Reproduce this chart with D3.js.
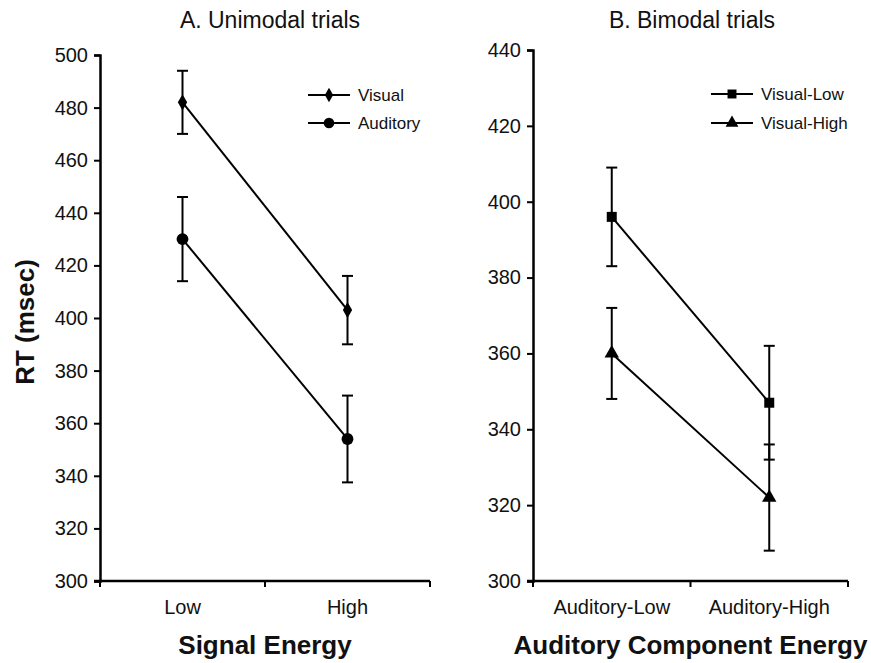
<!DOCTYPE html>
<html>
<head>
<meta charset="utf-8">
<script src="https://cdn.jsdelivr.net/npm/d3@7"></script>
<style>
  body { margin: 0; background: #fff; }
  text { font-family: "Liberation Sans", Arial, Helvetica, sans-serif; fill: #111; }
</style>
</head>
<body>
<div id="chart"></div>
<script>
// ---- data ----
var unimodalCats = ["Low", "High"];
var visualRT = [482, 403];
var visualErr = [12, 13];
var auditoryRT = [430, 354];
var auditoryErr = [16, 16.5];
var unimodalTicks = [300, 320, 340, 360, 380, 400, 420, 440, 460, 480, 500];

var bimodalCats = ["Auditory-Low", "Auditory-High"];
var visLowRT = [396, 347];
var visLowErr = [13, 15];
var visHighRT = [360, 322];
var visHighErr = [12, 14];
var bimodalTicks = [300, 320, 340, 360, 380, 400, 420, 440];

var W = 871, H = 663;

var svg = d3.select("#chart")
  .append("svg")
    .attr("width", W)
    .attr("height", H);

// y axis title
svg.append("text")
  .attr("transform", "translate(34,322) rotate(-90)")
  .attr("text-anchor", "middle")
  .style("font-size", "26px")
  .style("font-weight", "bold")
  .text("RT (msec)");

function symbolPath(type, size) {
  return d3.symbol().type(type).size(size)();
}

function panel(opts) {
  var g = svg.append("g");

  var x = d3.scaleBand()
    .domain(opts.cats)
    .range([opts.x0, opts.x1]);

  var y = d3.scaleLinear()
    .domain([opts.ticks[0], opts.ticks[opts.ticks.length - 1]])
    .range([581, opts.yTop]);

  // y axis
  var ya = g.append("g")
    .attr("transform", "translate(" + opts.x0 + ",0)")
    .call(d3.axisLeft(y).tickValues(opts.ticks).tickSize(6).tickSizeOuter(6).tickPadding(6));
  ya.select(".domain").attr("stroke", "#000").attr("stroke-width", 2.5);
  ya.selectAll(".tick line").attr("stroke", "#000").attr("stroke-width", 2);
  ya.selectAll(".tick text")
    .style("font-size", "20px")
    .style("font-family", "'Liberation Sans', Arial, sans-serif")
    .attr("fill", "#111");

  // x axis line + boundary ticks
  g.append("line")
    .attr("x1", opts.x0 - 6).attr("x2", opts.x1)
    .attr("y1", 581).attr("y2", 581)
    .attr("stroke", "#000").attr("stroke-width", 2.5);
  var bounds = [opts.x0, opts.x0 + x.step(), opts.x1];
  g.selectAll(".xt")
    .data(bounds)
    .enter().append("line")
      .attr("x1", function (d) { return d; })
      .attr("x2", function (d) { return d; })
      .attr("y1", 581).attr("y2", 587)
      .attr("stroke", "#000").attr("stroke-width", 2);
  g.selectAll(".xl")
    .data(opts.cats)
    .enter().append("text")
      .attr("x", function (d) { return x(d) + x.bandwidth() / 2; })
      .attr("y", 614)
      .attr("text-anchor", "middle")
      .style("font-size", "20px")
      .text(function (d) { return d; });

  // x axis title
  g.append("text")
    .attr("x", (opts.x0 + opts.x1) / 2)
    .attr("y", 654)
    .attr("text-anchor", "middle")
    .style("font-size", "26px")
    .style("font-weight", "bold")
    .text(opts.xTitle);

  // panel title
  g.append("text")
    .attr("x", opts.titleX)
    .attr("y", 28)
    .attr("text-anchor", "middle")
    .style("font-size", "23px")
    .text(opts.title);

  var cx = function (i) { return x(opts.cats[i]) + x.bandwidth() / 2; };

  opts.series.forEach(function (s, si) {
    var pts = s.vals.map(function (v, i) { return { i: i, v: v, e: s.err[i] }; });

    // line
    g.append("path")
      .datum(pts)
      .attr("fill", "none")
      .attr("stroke", "#000")
      .attr("stroke-width", 2)
      .attr("d", d3.line()
        .x(function (d) { return cx(d.i); })
        .y(function (d) { return y(d.v); }));

    // error bars
    var eb = g.append("g").selectAll("g")
      .data(pts)
      .enter().append("g");
    eb.append("line")
      .attr("x1", function (d) { return cx(d.i); })
      .attr("x2", function (d) { return cx(d.i); })
      .attr("y1", function (d) { return y(d.v - d.e); })
      .attr("y2", function (d) { return y(d.v + d.e); })
      .attr("stroke", "#000").attr("stroke-width", 2);
    [-1, 1].forEach(function (sg) {
      eb.append("line")
        .attr("x1", function (d) { return cx(d.i) - 5.5; })
        .attr("x2", function (d) { return cx(d.i) + 5.5; })
        .attr("y1", function (d) { return y(d.v + sg * d.e); })
        .attr("y2", function (d) { return y(d.v + sg * d.e); })
        .attr("stroke", "#000").attr("stroke-width", 2);
    });

    // markers
    g.append("g").selectAll("path")
      .data(pts)
      .enter().append("path")
        .attr("transform", function (d) { return "translate(" + cx(d.i) + "," + y(d.v) + ")"; })
        .attr("d", symbolPath(s.symbol, s.size))
        .attr("fill", "#000");

    // legend
    var ly = opts.legendY[si];
    g.append("line")
      .attr("x1", opts.legendX).attr("x2", opts.legendX + 42)
      .attr("y1", ly).attr("y2", ly)
      .attr("stroke", "#000").attr("stroke-width", 2);
    g.append("path")
      .attr("transform", "translate(" + (opts.legendX + 21) + "," + ly + ")")
      .attr("d", symbolPath(s.symbol, s.size * 0.8))
      .attr("fill", "#000");
    g.append("text")
      .attr("x", opts.legendX + 50)
      .attr("y", ly + 6)
      .style("font-size", "17px")
      .text(s.name);
  });
}

panel({
  cats: unimodalCats,
  ticks: unimodalTicks,
  x0: 100, x1: 430, yTop: 55,
  title: "A. Unimodal trials", titleX: 270,
  xTitle: "Signal Energy",
  legendX: 308, legendY: [95, 123],
  series: [
    { name: "Visual", vals: visualRT, err: visualErr, symbol: d3.symbolDiamond, size: 75 },
    { name: "Auditory", vals: auditoryRT, err: auditoryErr, symbol: d3.symbolCircle, size: 110 }
  ]
});

panel({
  cats: bimodalCats,
  ticks: bimodalTicks,
  x0: 533, x1: 848, yTop: 50,
  title: "B. Bimodal trials", titleX: 692,
  xTitle: "Auditory Component Energy",
  legendX: 711, legendY: [94, 123],
  series: [
    { name: "Visual-Low", vals: visLowRT, err: visLowErr, symbol: d3.symbolSquare, size: 100 },
    { name: "Visual-High", vals: visHighRT, err: visHighErr, symbol: d3.symbolTriangle, size: 90 }
  ]
});
</script>
</body>
</html>
